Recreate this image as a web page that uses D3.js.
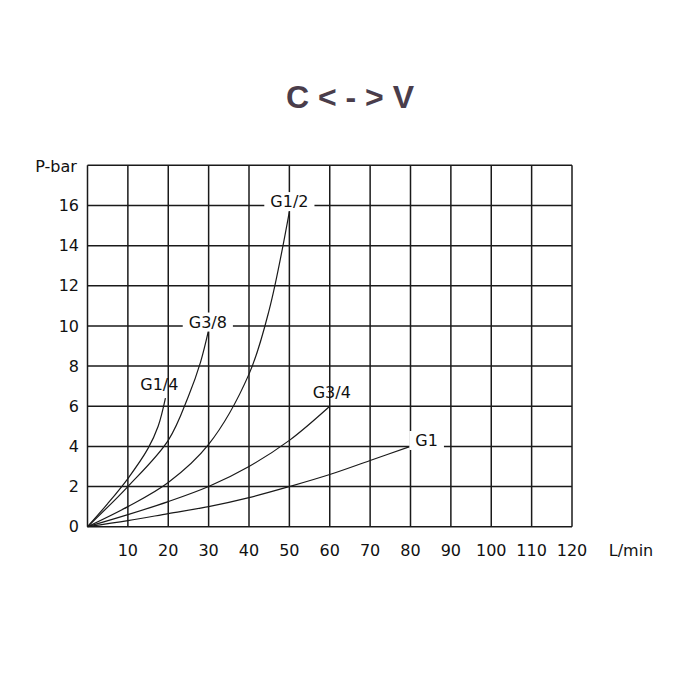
<!DOCTYPE html><html><head><meta charset="utf-8"><script src="https://cdn.jsdelivr.net/npm/d3@7"></script>
<style>body{margin:0;background:#fff}</style></head><body><svg id="c" width="700" height="700"></svg>
<script>
const xTicks=[10,20,30,40,50,60,70,80,90,100,110,120];
const yTicks=[0,2,4,6,8,10,12,14,16];
const seriesNames=["G1/4","G3/8","G1/2","G3/4","G1"];
const G14=[[0,0],[5,1.15],[10,2.4],[15,3.9],[17.5,5.0],[19.3,6.4]];
const G38=[[0,0],[10,2.0],[20,4.3],[25,6.5],[28,8.2],[30,9.8]];
const G12=[[0,0],[10,1.0],[20,2.2],[30,4.1],[40,7.6],[45,10.8],[50,15.7]];
const G34=[[0,0],[10,0.6],[20,1.25],[30,2.0],[40,3.0],[50,4.3],[60,6.0]];
const G1=[[0,0],[10,0.3],[20,0.65],[30,1.0],[40,1.45],[50,2.0],[60,2.6],[70,3.3],[80,4.0]];
const labels=[{t:"G1/4",x:17.8,y:7.1,m:false},{t:"G3/8",x:29.8,y:10.2,m:true},{t:"G1/2",x:50,y:16.2,m:true},{t:"G3/4",x:60.5,y:6.7,m:false},{t:"G1",x:84,y:4.3,m:true}];
const svg=d3.select("#c");
const x=d3.scaleLinear([0,120],[87.5,572]);
const y=d3.scaleLinear([0,16],[526.7,205.5]);
const col="#1a1a1a";
const g=svg.append("g");
d3.range(0,121,10).forEach(v=>g.append("line").attr("x1",x(v)).attr("x2",x(v)).attr("y1",y(0)).attr("y2",y(18)).attr("stroke",col).attr("stroke-width",1.5));
d3.range(0,19,2).forEach(v=>g.append("line").attr("x1",x(0)).attr("x2",x(120)).attr("y1",y(v)).attr("y2",y(v)).attr("stroke",col).attr("stroke-width",1.5));
const line=d3.line().x(d=>x(d[0])).y(d=>y(d[1])).curve(d3.curveCatmullRom.alpha(0.5));
[G14,G38,G12,G34,G1].forEach(s=>svg.append("path").attr("d",line(s)).attr("fill","none").attr("stroke",col).attr("stroke-width",1.2));
const F="DejaVu Sans";
labels.forEach(l=>{
 const t=svg.append("text").attr("x",x(l.x)).attr("y",y(l.y)).attr("dy","0.35em").attr("text-anchor","middle").attr("font-family",F).attr("font-size",16).attr("fill","#111").text(l.t);
 if(l.m){const b=t.node().getBBox();svg.insert("rect","text").attr("x",b.x-6).attr("y",b.y).attr("width",b.width+12).attr("height",b.height).attr("fill","#fff");}
});
svg.selectAll(".yt").data(yTicks).join("text").attr("x",79).attr("y",d=>y(d)).attr("dy","0.35em").attr("text-anchor","end").attr("font-family",F).attr("font-size",16).attr("fill","#111").text(d=>d);
svg.selectAll(".xt").data(xTicks).join("text").attr("x",d=>x(d)).attr("y",550).attr("dy","0.35em").attr("text-anchor","middle").attr("font-family",F).attr("font-size",16).attr("fill","#111").text(d=>d);
svg.append("text").attr("x",56).attr("y",166).attr("dy","0.35em").attr("text-anchor","middle").attr("font-family",F).attr("font-size",16).attr("fill","#111").text("P-bar");
svg.append("text").attr("x",631).attr("y",550).attr("dy","0.35em").attr("text-anchor","middle").attr("font-family",F).attr("font-size",16).attr("fill","#111").text("L/min");
svg.append("text").attr("x",350).attr("y",97).attr("dy","0.35em").attr("text-anchor","middle").attr("font-family","Liberation Sans").attr("font-weight","bold").attr("font-size",32).attr("fill","#4a3d4b").text("C < - > V");
</script></body></html>
